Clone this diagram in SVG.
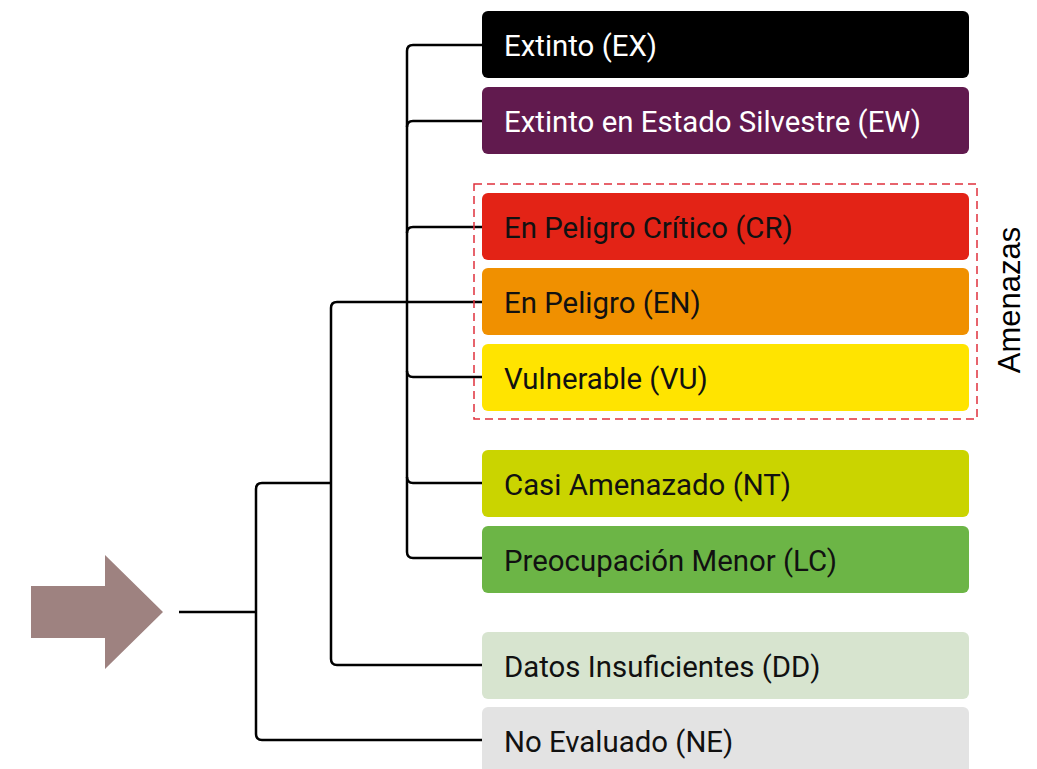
<svg xmlns="http://www.w3.org/2000/svg" width="1037" height="769" viewBox="0 0 1037 769">
<style>
.box{rx:6px;ry:6px}
.t{font-family:Roboto,"Liberation Sans",sans-serif;font-size:29.4px;fill:#111}
.w{fill:#fff}
.c{fill:none;stroke:#000;stroke-width:2.5}
</style>
<rect width="1037" height="769" fill="#fff"/>
<g id="arrow"><polygon points="31,586 105,586 105,555 163,612 105,669 105,638 31,638" fill="#9e8280"/></g>
<g id="connectors" class="c">
<path d="M179,612 H256"/>
<path d="M331,483 H262 Q256,483 256,489 V734 Q256,740 262,740 H482"/>
<path d="M331,483 V308 Q331,302 337,302 H482"/>
<path d="M331,483 V659 Q331,665 337,665 H482"/>
<path d="M482,45 H413 Q407,45 407,51 V552 Q407,558 413,558 H482"/>
<path d="M407,127 Q407,121 413,121 H482"/>
<path d="M407,233 Q407,227 413,227 H482"/>
<path d="M407,371 Q407,377 413,377 H482"/>
<path d="M407,477 Q407,483 413,483 H482"/>
</g>
<g id="amenazas">
<rect x="474" y="184" width="503" height="235" fill="none" stroke="#e0303c" stroke-width="1.5" stroke-dasharray="8,5"/>
<text transform="translate(1020,300) rotate(-90)" text-anchor="middle" font-family="'Liberation Sans',Arial,sans-serif" font-size="31" fill="#000">Amenazas</text>
</g>
<g id="EX"><rect class="box" x="482" y="11" width="487" height="67" fill="#000"/><text class="t w" x="504" y="56">Extinto (EX)</text></g>
<g id="EW"><rect class="box" x="482" y="87" width="487" height="67" fill="#611a4e"/><text class="t w" x="504" y="132">Extinto en Estado Silvestre (EW)</text></g>
<g id="CR"><rect class="box" x="482" y="193" width="487" height="67" fill="#e32316"/><text class="t" x="504" y="238">En Peligro Crítico (CR)</text></g>
<g id="EN"><rect class="box" x="482" y="268" width="487" height="67" fill="#f09000"/><text class="t" x="504" y="313">En Peligro (EN)</text></g>
<g id="VU"><rect class="box" x="482" y="344" width="487" height="67" fill="#ffe400"/><text class="t" x="504" y="389">Vulnerable (VU)</text></g>
<g id="NT"><rect class="box" x="482" y="450" width="487" height="67" fill="#cad400"/><text class="t" x="504" y="495">Casi Amenazado (NT)</text></g>
<g id="LC"><rect class="box" x="482" y="526" width="487" height="67" fill="#6cb546"/><text class="t" x="504" y="571">Preocupación Menor (LC)</text></g>
<g id="DD"><rect class="box" x="482" y="632" width="487" height="67" fill="#d7e4cf"/><text class="t" x="504" y="677">Datos Insuficientes (DD)</text></g>
<g id="NE"><rect class="box" x="482" y="707" width="487" height="67" fill="#e3e3e3"/><text class="t" x="504" y="752">No Evaluado (NE)</text></g>
</svg>
